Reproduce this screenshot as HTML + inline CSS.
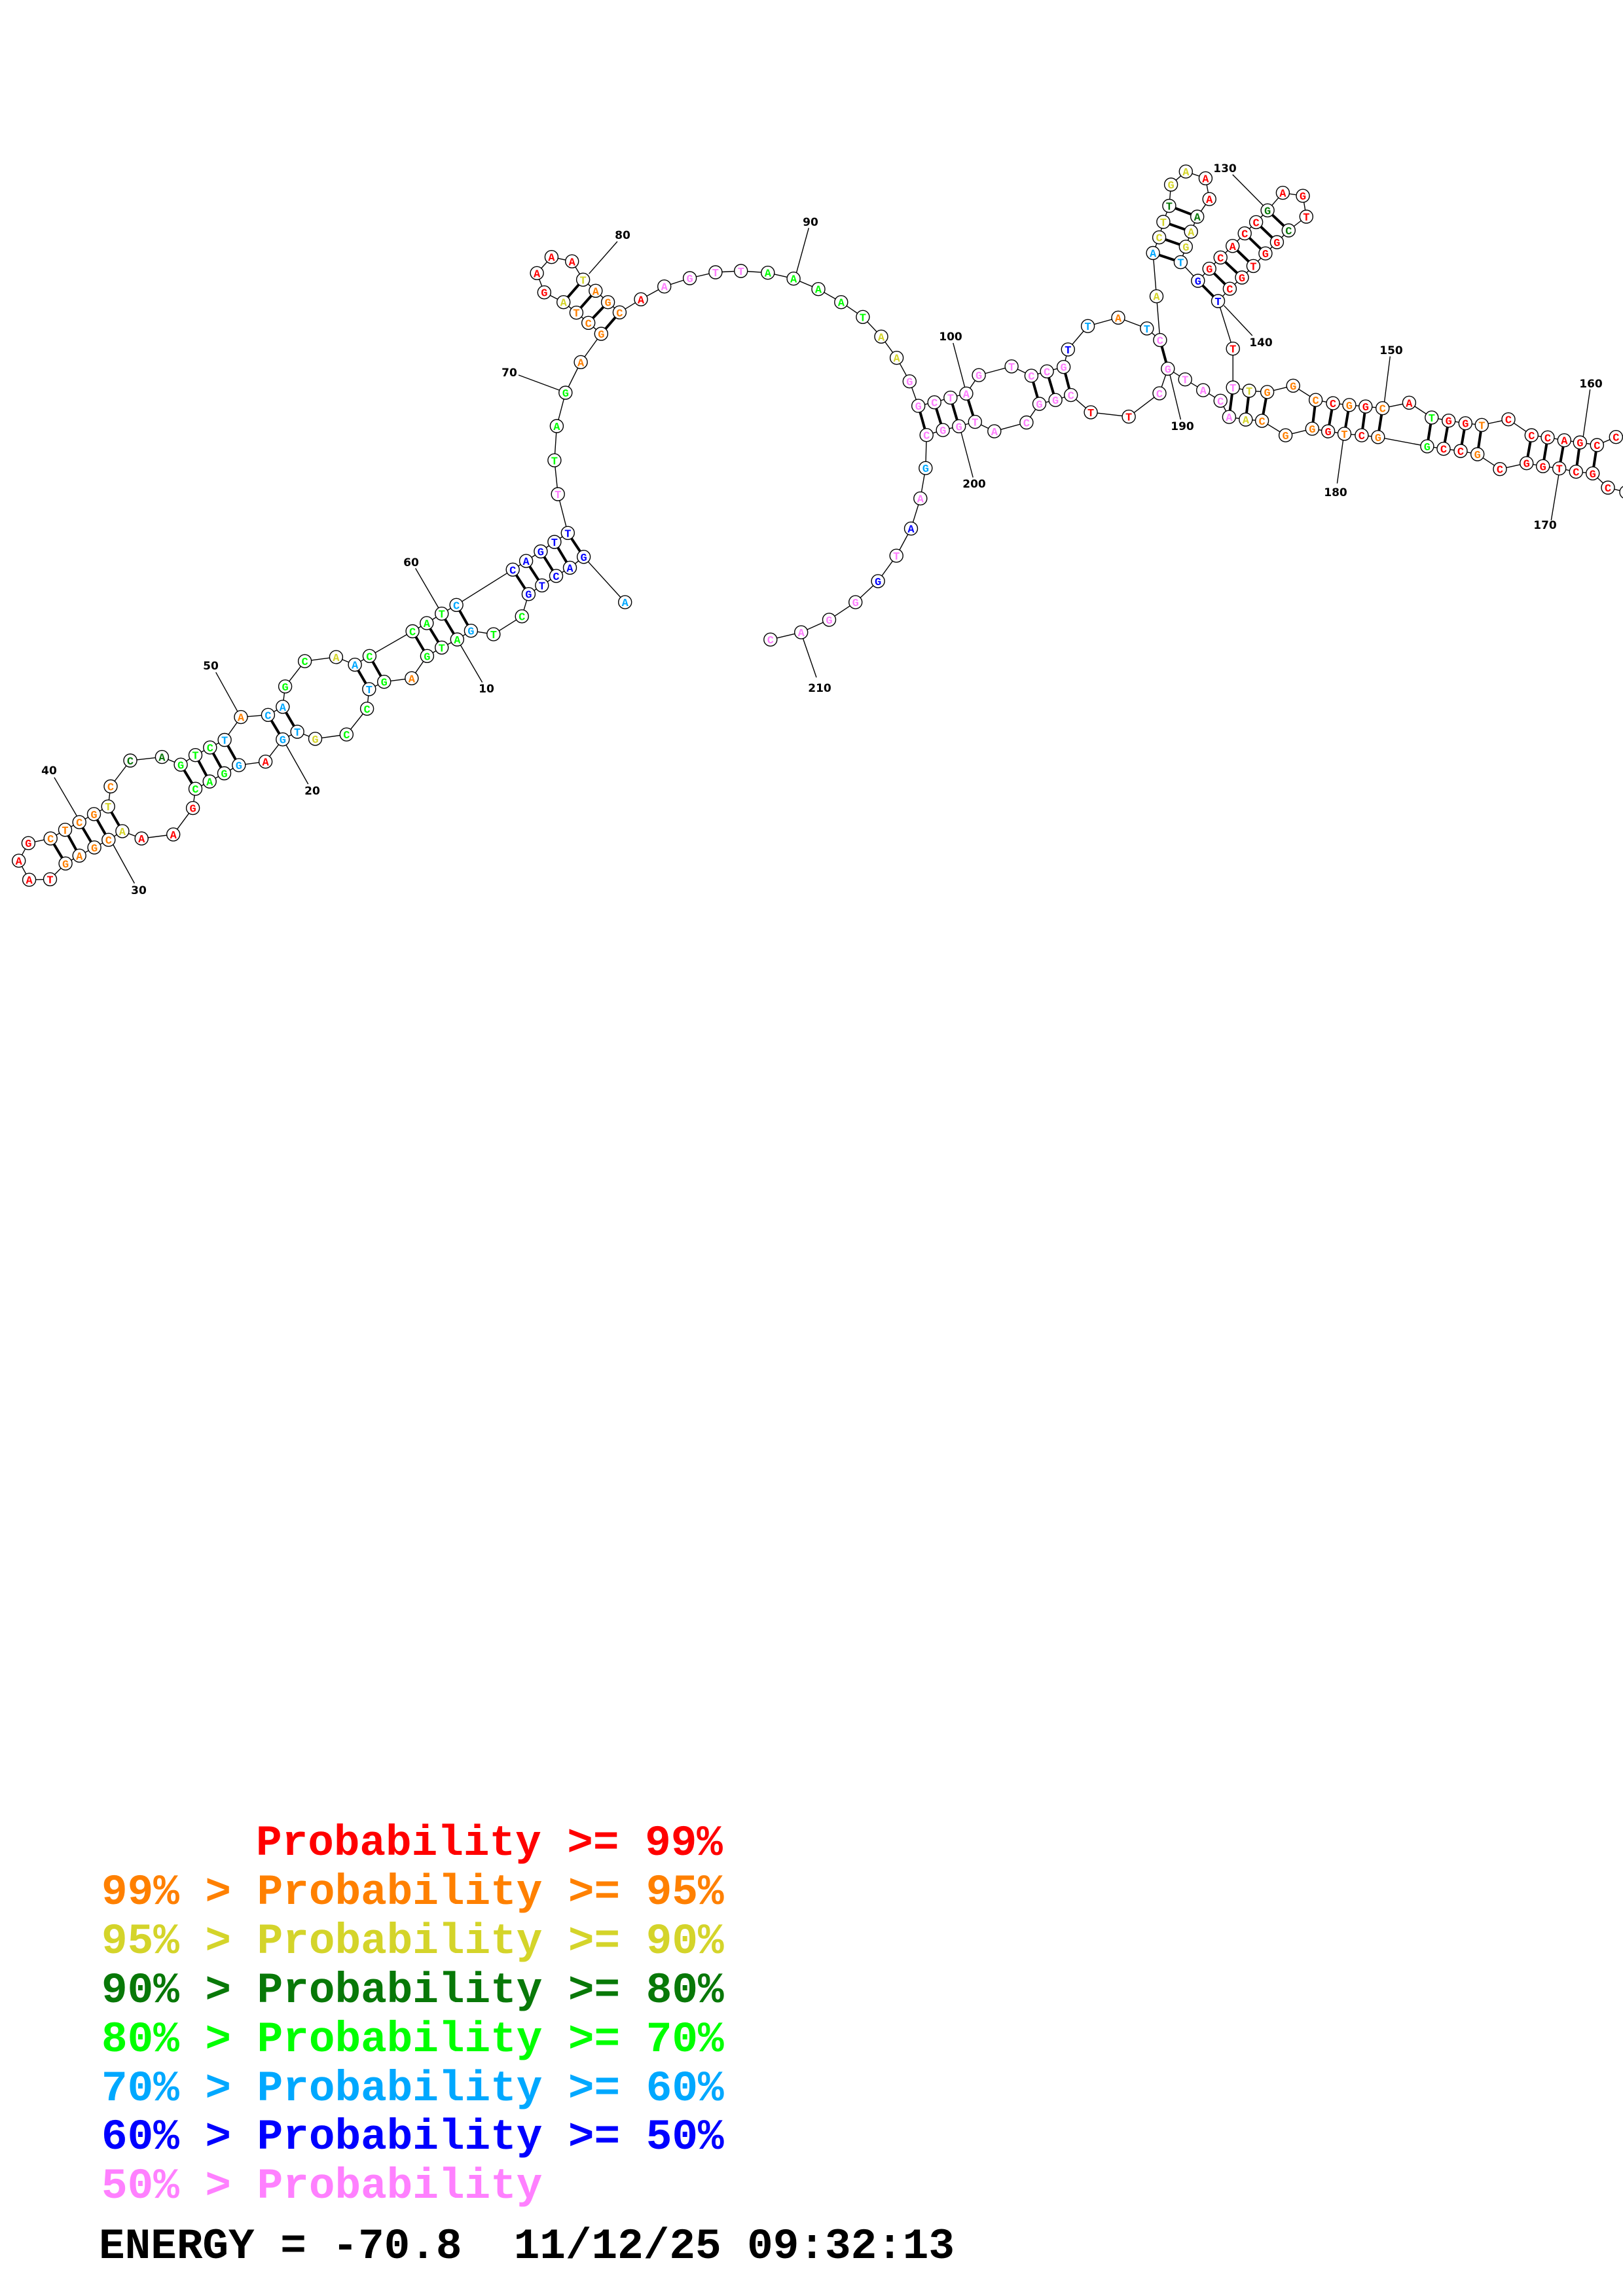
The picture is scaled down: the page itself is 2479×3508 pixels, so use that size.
<!DOCTYPE html>
<html><head><meta charset="utf-8"><style>
html,body{margin:0;padding:0;background:#fff}
#c{position:absolute;left:0;top:0}
.lg{font-family:"Liberation Mono",monospace;font-weight:bold;font-size:66px;white-space:pre}
</style></head><body>
<svg id="c" width="2479" height="3508" xmlns="http://www.w3.org/2000/svg">
<g id="bb"></g><g id="pr"></g><g id="tk"></g><g id="nd"></g>
<g class="lg">
<text x="391" y="2834" fill="#ff0000">Probability &gt;= 99%</text>
<text x="155" y="2909" fill="#ff8000">99% &gt; Probability &gt;= 95%</text>
<text x="155" y="2984" fill="#d4d42a">95% &gt; Probability &gt;= 90%</text>
<text x="155" y="3059" fill="#087808">90% &gt; Probability &gt;= 80%</text>
<text x="155" y="3134" fill="#00ff00">80% &gt; Probability &gt;= 70%</text>
<text x="155" y="3209" fill="#00a8ff">70% &gt; Probability &gt;= 60%</text>
<text x="155" y="3283" fill="#0000ff">60% &gt; Probability &gt;= 50%</text>
<text x="155" y="3358" fill="#ff80ff">50% &gt; Probability</text>
<text x="151" y="3450" fill="#000">ENERGY = -70.8&#160;&#160;11/12/25 09:32:13</text>
</g>
</svg>
<script>
var C={R:"#ff0000",O:"#ff8000",Y:"#d4d42a",D:"#087808",G:"#00ff00",L:"#00a8ff",B:"#0000ff",P:"#ff80ff"};
var N=[
[954.7,920.1,"A","L"],[891.6,850.8,"G","B"],[870.5,867.4,"A","B"],[849.5,879.9,"C","B"],[827.8,894.4,"T","B"],[807.4,907.7,"G","B"],[797.2,941.7,"C","G"],[753.8,969.1,"T","G"],[719.4,963.7,"G","L"],[698.3,977,"A","G"],
[674.7,989.4,"T","G"],[652.4,1002.3,"G","G"],[628.8,1036.3,"A","O"],[586.7,1041.7,"G","G"],[563.8,1052.9,"T","L"],[560.6,1082.8,"C","G"],[529.3,1122.2,"C","G"],[481.5,1128.8,"G","Y"],[454.1,1118,"T","L"],[431.8,1129.7,"G","L"],
[405.6,1163.7,"A","R"],[364.8,1169.1,"G","L"],[342.5,1181.5,"G","G"],[320.2,1194,"A","G"],[298.5,1205.2,"C","G"],[294.6,1234.6,"G","R"],[264.7,1274.9,"A","R"],[216.2,1281.1,"A","R"],[186.9,1269.9,"A","Y"],[165.8,1283.2,"C","O"],
[144.1,1294.8,"G","O"],[121.2,1307.3,"A","O"],[100.1,1319.3,"G","O"],[76.5,1343.4,"T","R"],[44.6,1344.2,"A","R"],[28.7,1315.1,"A","R"],[43.4,1288.2,"G","R"],[77.2,1281.1,"C","O"],[99.5,1267.8,"T","O"],[121.2,1256.2,"C","O"],
[143.5,1243.8,"G","O"],[165.2,1232.2,"T","Y"],[169,1201.5,"C","O"],[199,1162,"C","D"],[247.4,1156.6,"A","D"],[276.1,1168.3,"G","G"],[298.5,1153.7,"T","G"],[320.8,1142.1,"C","G"],[343.1,1130.5,"T","L"],[368,1095.6,"A","O"],
[409.4,1092.3,"C","L"],[431.8,1079.9,"A","L"],[435.6,1048.8,"G","G"],[465.6,1010.2,"C","G"],[513.4,1003.9,"A","Y"],[542.1,1015.6,"A","L"],[564.4,1002.3,"C","G"],[630.1,964.5,"C","G"],[651.8,952.1,"A","G"],[674.7,937.6,"T","G"],
[697.1,924.3,"C","L"],[783.2,870.3,"C","B"],[803.6,857.1,"A","B"],[825.9,842.5,"G","B"],[846.9,828,"T","B"],[867.3,814.3,"T","B"],[852.2,755,"T","P"],[846.9,703.3,"T","G"],[850.4,651,"A","G"],[863.8,600,"G","G"],
[887.1,553.3,"A","O"],[918.3,510,"G","O"],[898.7,493.3,"C","O"],[880.4,477.7,"T","O"],[860.7,461.7,"A","Y"],[831.3,446.7,"G","R"],[820.1,417.3,"A","R"],[842.4,392.7,"A","R"],[873.7,399.3,"A","R"],[890.6,427.3,"T","Y"],
[909.8,444.3,"A","O"],[928.6,461.7,"G","O"],[946.4,477.3,"C","O"],[979,457.3,"A","R"],[1014.7,437.7,"A","P"],[1053.6,425,"G","P"],[1092.9,416,"T","P"],[1131.7,414,"T","P"],[1172.8,416.7,"A","G"],[1212.1,425.7,"A","G"],
[1250,441.7,"A","G"],[1284.8,461.7,"A","G"],[1317.9,484.3,"T","G"],[1346,514.3,"A","Y"],[1369.6,546.7,"A","Y"],[1389.3,582.7,"G","P"],[1402.7,620.1,"G","P"],[1427.2,614.7,"C","P"],[1451.8,607.6,"T","P"],[1475.9,601.3,"A","P"],
[1495.1,573.2,"G","P"],[1545.1,559.8,"T","P"],[1575.4,574.1,"C","P"],[1599.1,567.4,"C","P"],[1624.6,560.7,"G","P"],[1631.3,533.9,"T","B"],[1661.6,498.2,"T","L"],[1708,485.3,"A","O"],[1751.8,501.8,"T","L"],[1771.9,519.6,"C","P"],
[1766.5,452.7,"A","Y"],[1761.1,386.5,"A","L"],[1770.6,362.7,"C","Y"],[1776.9,339,"T","Y"],[1785.9,314.5,"T","D"],[1788.6,282,"G","Y"],[1811.3,262.1,"A","Y"],[1841.4,272.4,"A","R"],[1847.2,304.2,"A","R"],[1828.7,331,"A","D"],
[1819.2,353.9,"A","Y"],[1811.3,376.9,"G","Y"],[1803.4,400.6,"T","L"],[1829.8,429,"G","B"],[1847.2,410.6,"G","R"],[1864.2,393.4,"C","R"],[1882.7,375.8,"A","R"],[1901.2,356.6,"C","R"],[1918.6,339.4,"C","R"],[1936.1,321.4,"G","D"],
[1959.4,294.6,"A","R"],[1990,299.2,"G","R"],[1995.3,331,"T","R"],[1968.3,352,"C","D"],[1950.4,370,"G","R"],[1932.9,387.2,"G","R"],[1914.4,406.4,"T","R"],[1897,424,"G","R"],[1878.4,441.2,"C","R"],[1860.5,460,"T","B"],
[1883.2,532.7,"T","R"],[1883.2,592,"T","P"],[1908.1,597,"T","Y"],[1935.6,598.9,"G","O"],[1975.2,589.3,"G","O"],[2009.6,611.1,"C","O"],[2036,616.1,"C","R"],[2060.9,618.8,"G","O"],[2085.8,621.1,"G","R"],[2111.7,623.7,"C","O"],
[2152.4,615.3,"A","R"],[2186.8,637.9,"T","G"],[2212.7,642.7,"G","R"],[2238.3,646.7,"G","R"],[2263.3,649.3,"T","O"],[2304,640.7,"C","R"],[2339.3,665,"C","R"],[2364,668.3,"C","R"],[2389.3,672.7,"A","R"],[2413.3,676,"G","R"],
[2439.3,680,"C","R"],[2468.3,667.7,"C","R"],[2497,662,"C","R"],[2518,690,"G","R"],[2512,725,"A","R"],[2484,752,"C","R"],[2456,745,"C","R"],[2432.7,723.3,"G","R"],[2407.3,720.7,"C","R"],[2381.7,715.7,"T","R"],
[2356.7,712.3,"G","R"],[2331.7,707.7,"G","R"],[2291,716.7,"C","R"],[2256.7,694,"G","O"],[2231,689,"C","R"],[2205,685.7,"C","R"],[2179.9,681.9,"G","G"],[2104.8,667.8,"G","O"],[2079.9,665.1,"C","R"],[2053.5,662.8,"T","O"],
[2028.6,659,"G","R"],[2004.3,655.1,"G","O"],[1963.6,665.1,"G","O"],[1927.6,642.9,"C","O"],[1902.8,641,"A","Y"],[1877.4,637.1,"A","P"],[1864.2,612.3,"C","P"],[1837.7,596.2,"A","P"],[1810.2,579.7,"T","P"],[1783.8,563.3,"G","P"],
[1771,600.9,"C","P"],[1724.1,636.6,"T","R"],[1666.1,629.9,"T","R"],[1635.7,603.6,"C","P"],[1612.1,611.2,"G","P"],[1587.5,617,"G","P"],[1567.9,645.5,"C","P"],[1518.8,658.9,"A","P"],[1489.3,644.6,"T","P"],[1464.7,651.3,"G","P"],
[1440.2,657.1,"G","P"],[1415.2,664.7,"C","P"],[1413.8,715.2,"G","L"],[1405.8,761.6,"A","P"],[1391.5,807.6,"A","B"],[1369.2,849.1,"T","P"],[1341.1,887.9,"G","B"],[1306.7,920.1,"G","P"],[1266.5,946.9,"G","P"],[1223.7,966.1,"A","P"],
[1176.8,977.2,"C","P"]];
var P=[[2,66],[3,65],[4,64],[5,63],[6,62],[9,61],[10,60],[11,59],[12,58],[14,57],[15,56],[19,52],[20,51],[22,49],[23,48],[24,47],[25,46],
[29,42],[30,41],[31,40],[32,39],[33,38],[72,83],[73,82],[74,81],[75,80],[97,202],[98,201],[99,200],[100,199],[103,196],[104,195],[105,194],[110,190],
[112,123],[113,122],[114,121],[115,120],[124,140],[125,139],[126,138],[127,137],[128,136],[129,135],[130,134],[142,186],[143,185],[144,184],
[146,182],[147,181],[148,180],[149,179],[150,178],[152,177],[153,176],[154,175],[155,174],[157,172],[158,171],[159,170],[160,169],[161,168]];
var T=[["10",743,1058,736.6,1042.5,701.5,982.4],["20",477,1214,470.7,1198,436.9,1138],["30",212,1366,205.4,1349.6,172.2,1289.4],["40",75,1183,82.9,1187.8,118,1247.9],
["50",322,1023,329.7,1027.2,363.5,1088.2],["60",628,865,634.6,868.3,669.6,928.4],["70",778,575,792,573,854,596],["80",951,365,942.9,369,899.6,418.3],
["90",1238,345,1235.3,348.3,1216.5,416.7],["100",1452,520,1455.8,524.1,1474.1,593.3],["200",1488,745,1486.2,729.5,1467.4,658],["210",1252,1057,1247,1035,1226,974],
["130",1871,263,1882.7,266.7,1929.2,313.8],["140",1926,529,1912.8,512.8,1869.5,466.8],["150",2125,541,2123.3,544.5,2114.3,616.1],["160",2430,592,2428.7,595,2418.3,666.7],
["170",2360,808,2369.3,795,2381.7,720],["180",2040,758,2042.4,738.6,2051.9,669.7],["190",1806,657,1803.4,641,1786.4,570.2]];
var ns="http://www.w3.org/2000/svg";
function el(p,t,a,txt){var e=document.createElementNS(ns,t);for(var k in a)e.setAttribute(k,a[k]);if(txt)e.textContent=txt;document.getElementById(p).appendChild(e);}
var pts=N.map(function(n){return n[0]+","+n[1];}).join(" ");
el("bb","polyline",{points:pts,fill:"none",stroke:"#000","stroke-width":"1.4"});
P.forEach(function(p){var a=N[p[0]-1],b=N[p[1]-1];el("pr","line",{x1:a[0],y1:a[1],x2:b[0],y2:b[1],stroke:"#000","stroke-width":"4"});});
T.forEach(function(t){el("tk","line",{x1:t[3],y1:t[4],x2:t[5],y2:t[6],stroke:"#000","stroke-width":"1.4"});
el("tk","text",{x:t[1],y:t[2],"text-anchor":"middle","font-family":"DejaVu Sans, sans-serif","font-weight":"bold","font-size":"17"},t[0]);});
N.forEach(function(n){el("nd","circle",{cx:n[0],cy:n[1],r:"10",fill:"#fff",stroke:"#000","stroke-width":"1.4"});
el("nd","text",{x:n[0],y:n[1]+6,"text-anchor":"middle","font-family":"Liberation Mono, monospace","font-weight":"bold","font-size":"17",fill:C[n[3]]},n[2]);});
</script>
</body></html>
